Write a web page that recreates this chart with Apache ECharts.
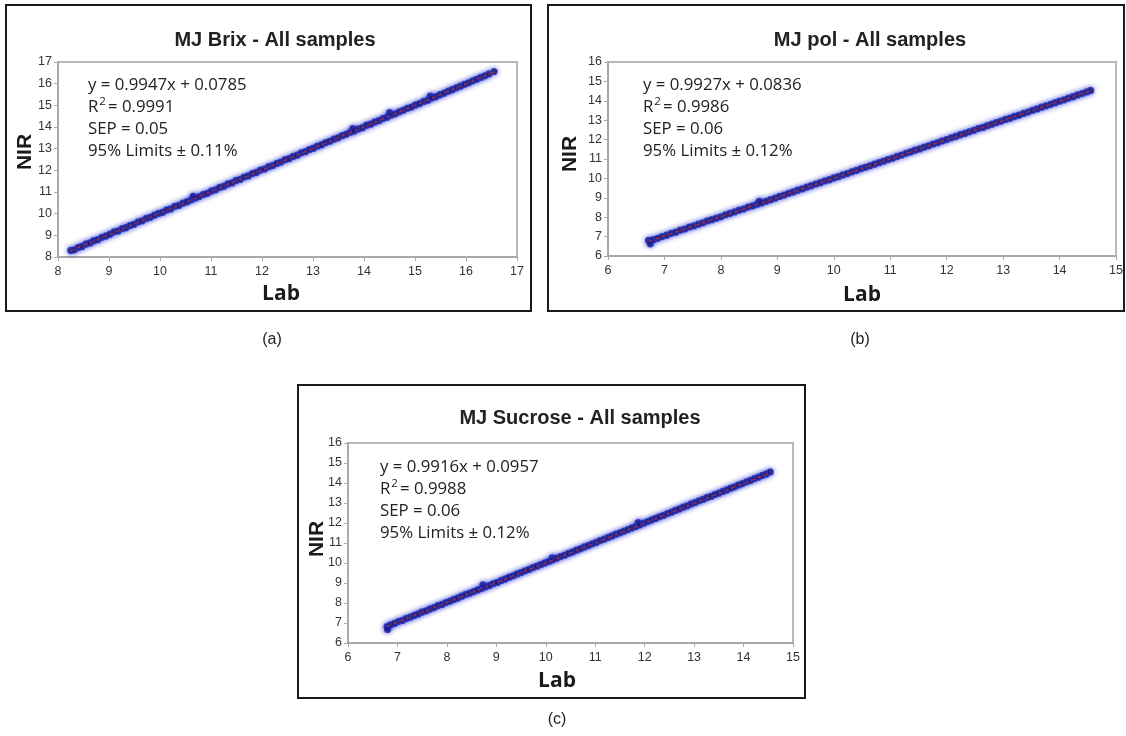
<!DOCTYPE html>
<html>
<head>
<meta charset="utf-8">
<title>MJ calibration - NIR vs Lab</title>
<script src="https://cdn.jsdelivr.net/npm/echarts@6/dist/echarts.min.js"></script>
<style>
  html, body { margin: 0; padding: 0; background: #fff; }
  #chart { width: 1126px; height: 736px; }
</style>
</head>
<body>
<div id="chart"></div>
<script>
// ---- MJ Brix: lab reference vs NIR prediction ----
const brixLab = [8.25, 8.32, 8.40, 8.47, 8.55, 8.63, 8.70, 8.78, 8.86, 8.94, 9.02, 9.10, 9.18, 9.26, 9.33, 9.41, 9.49, 9.57, 9.65, 9.73,
  9.81, 9.89, 9.97, 10.05, 10.13, 10.21, 10.29, 10.37, 10.45, 10.53, 10.61, 10.65, 10.69, 10.77, 10.85, 10.93, 11.01, 11.09, 11.17, 11.25,
  11.33, 11.41, 11.49, 11.57, 11.65, 11.73, 11.81, 11.89, 11.97, 12.05, 12.13, 12.21, 12.29, 12.37, 12.45, 12.53, 12.61, 12.69, 12.77, 12.85,
  12.93, 13.01, 13.09, 13.17, 13.25, 13.33, 13.41, 13.49, 13.57, 13.65, 13.73, 13.78, 13.81, 13.89, 13.97, 14.05, 14.13, 14.21, 14.29, 14.37,
  14.45, 14.50, 14.53, 14.61, 14.69, 14.77, 14.85, 14.93, 15.01, 15.09, 15.17, 15.25, 15.30, 15.33, 15.41, 15.49, 15.57, 15.65, 15.73, 15.81,
  15.89, 15.97, 16.05, 16.13, 16.21, 16.29, 16.37, 16.45, 16.55];
const brixNir = [8.30, 8.33, 8.44, 8.49, 8.60, 8.65, 8.75, 8.80, 8.91, 8.97, 9.05, 9.16, 9.20, 9.31, 9.35, 9.45, 9.51, 9.62, 9.67, 9.78,
  9.83, 9.93, 10.01, 10.06, 10.17, 10.22, 10.34, 10.38, 10.49, 10.55, 10.64, 10.80, 10.72, 10.79, 10.89, 10.94, 11.05, 11.10, 11.21, 11.26,
  11.37, 11.42, 11.53, 11.58, 11.69, 11.74, 11.85, 11.90, 12.01, 12.06, 12.17, 12.22, 12.32, 12.38, 12.49, 12.54, 12.64, 12.70, 12.81, 12.86,
  12.96, 13.02, 13.12, 13.18, 13.28, 13.34, 13.44, 13.50, 13.60, 13.66, 13.76, 13.92, 13.82, 13.91, 13.97, 14.08, 14.13, 14.23, 14.29, 14.39,
  14.45, 14.66, 14.55, 14.61, 14.70, 14.77, 14.86, 14.92, 15.02, 15.08, 15.18, 15.24, 15.42, 15.34, 15.40, 15.49, 15.56, 15.65, 15.72, 15.81,
  15.88, 15.97, 16.04, 16.13, 16.20, 16.29, 16.36, 16.45, 16.56];
const brixFit = { slope: 0.9947, intercept: 0.0785, r2: '0.9991', sep: '0.05', limits: '0.11' };

// ---- MJ pol ----
const polLab = [6.72, 6.75, 6.80, 6.88, 6.96, 7.04, 7.12, 7.20, 7.28, 7.36, 7.44, 7.52, 7.60, 7.68, 7.76, 7.84, 7.92, 8.00, 8.08, 8.16,
  8.24, 8.32, 8.40, 8.48, 8.56, 8.64, 8.68, 8.72, 8.80, 8.88, 8.96, 9.04, 9.12, 9.20, 9.28, 9.36, 9.44, 9.52, 9.60, 9.68,
  9.76, 9.84, 9.92, 10.00, 10.08, 10.16, 10.24, 10.32, 10.40, 10.48, 10.56, 10.64, 10.72, 10.80, 10.88, 10.96, 11.04, 11.12, 11.20, 11.28,
  11.36, 11.44, 11.52, 11.60, 11.68, 11.76, 11.84, 11.92, 12.00, 12.08, 12.16, 12.24, 12.32, 12.40, 12.48, 12.56, 12.64, 12.72, 12.80, 12.88,
  12.96, 13.04, 13.12, 13.20, 13.28, 13.36, 13.44, 13.52, 13.60, 13.68, 13.76, 13.84, 13.92, 14.00, 14.08, 14.16, 14.24, 14.32, 14.40, 14.48,
  14.55];
const polNir = [6.80, 6.63, 6.84, 6.91, 7.00, 7.07, 7.17, 7.23, 7.33, 7.39, 7.49, 7.55, 7.64, 7.71, 7.81, 7.87, 7.95, 8.02, 8.12, 8.19,
  8.27, 8.36, 8.42, 8.52, 8.58, 8.67, 8.82, 8.74, 8.82, 8.90, 8.98, 9.07, 9.14, 9.23, 9.30, 9.39, 9.46, 9.55, 9.62, 9.71,
  9.78, 9.87, 9.93, 10.02, 10.09, 10.18, 10.25, 10.34, 10.41, 10.50, 10.57, 10.65, 10.73, 10.81, 10.89, 10.97, 11.04, 11.13, 11.20, 11.29,
  11.36, 11.45, 11.52, 11.61, 11.68, 11.77, 11.84, 11.93, 12.00, 12.09, 12.16, 12.25, 12.32, 12.40, 12.48, 12.57, 12.63, 12.72, 12.79, 12.88,
  12.95, 13.04, 13.10, 13.19, 13.26, 13.35, 13.42, 13.51, 13.58, 13.67, 13.74, 13.82, 13.90, 13.98, 14.05, 14.14, 14.21, 14.30, 14.37, 14.46,
  14.53];
const polFit = { slope: 0.9927, intercept: 0.0836, r2: '0.9986', sep: '0.06', limits: '0.12' };

// ---- MJ Sucrose ----
const sucLab = [6.79, 6.80, 6.86, 6.94, 7.02, 7.10, 7.18, 7.26, 7.34, 7.42, 7.50, 7.58, 7.66, 7.74, 7.82, 7.90, 7.98, 8.06, 8.14, 8.22,
  8.30, 8.38, 8.46, 8.54, 8.62, 8.70, 8.73, 8.78, 8.86, 8.94, 9.02, 9.10, 9.18, 9.26, 9.34, 9.42, 9.50, 9.58, 9.66, 9.74,
  9.82, 9.90, 9.98, 10.06, 10.13, 10.14, 10.22, 10.30, 10.38, 10.46, 10.54, 10.62, 10.70, 10.78, 10.86, 10.94, 11.02, 11.10, 11.18, 11.26,
  11.34, 11.42, 11.50, 11.58, 11.66, 11.74, 11.82, 11.87, 11.90, 11.98, 12.06, 12.14, 12.22, 12.30, 12.38, 12.46, 12.54, 12.62, 12.70, 12.78,
  12.86, 12.94, 13.02, 13.10, 13.18, 13.26, 13.34, 13.42, 13.50, 13.58, 13.66, 13.74, 13.82, 13.90, 13.98, 14.06, 14.14, 14.22, 14.30, 14.38,
  14.46, 14.54];
const sucNir = [6.82, 6.68, 6.90, 6.98, 7.07, 7.13, 7.23, 7.29, 7.38, 7.45, 7.55, 7.61, 7.70, 7.77, 7.87, 7.93, 8.02, 8.09, 8.18, 8.25,
  8.34, 8.43, 8.49, 8.57, 8.65, 8.72, 8.90, 8.81, 8.88, 8.97, 9.03, 9.13, 9.20, 9.29, 9.36, 9.45, 9.52, 9.61, 9.68, 9.77,
  9.84, 9.92, 10.00, 10.08, 10.25, 10.16, 10.24, 10.32, 10.39, 10.48, 10.55, 10.64, 10.71, 10.80, 10.87, 10.96, 11.03, 11.12, 11.19, 11.28,
  11.35, 11.44, 11.51, 11.59, 11.67, 11.75, 11.83, 12.02, 11.91, 11.99, 12.07, 12.15, 12.23, 12.31, 12.38, 12.47, 12.54, 12.63, 12.70, 12.79,
  12.86, 12.95, 13.02, 13.11, 13.18, 13.27, 13.33, 13.42, 13.49, 13.58, 13.65, 13.74, 13.81, 13.90, 13.97, 14.06, 14.13, 14.22, 14.29, 14.38,
  14.45, 14.55];
const sucFit = { slope: 0.9916, intercept: 0.0957, r2: '0.9988', sep: '0.06', limits: '0.12' };

// Axis ranges (min, max) per panel
const brixRange = [8, 17, 8, 17];
const polRange = [6, 15, 6, 16];
const sucRange = [6, 15, 6, 16];

const titles = ['MJ Brix - All samples', 'MJ pol - All samples', 'MJ Sucrose - All samples'];
const captions = ['(a)', '(b)', '(c)'];

// ---- layout of the three panels (pixels) ----
const layout = [
  { grid: { left: 58, top: 62, width: 459, height: 195 }, frame: [6, 5, 525, 306],
    title: [275, 40], nir: [25, 152], lab: [281, 294], stats: [88, 85], caption: [272, 340] },
  { grid: { left: 608, top: 62, width: 509, height: 194 }, frame: [548, 5, 576, 306],
    title: [870, 40], nir: [570, 154], lab: [862, 295], stats: [643, 85], caption: [860, 340] },
  { grid: { left: 348, top: 443, width: 445, height: 200 }, frame: [298, 385, 507, 313],
    title: [580, 418], nir: [317, 539], lab: [557, 681], stats: [380, 467], caption: [557, 720] }
];

const panels = [
  { lab: brixLab, nir: brixNir, fit: brixFit, range: brixRange },
  { lab: polLab, nir: polNir, fit: polFit, range: polRange },
  { lab: sucLab, nir: sucNir, fit: sucFit, range: sucRange }
];

const tickFont = '"Liberation Sans", Arial, sans-serif';
const statFont = '"Open Sans", "Noto Sans", sans-serif';
const axisGray = '#a8a8a8';

const grids = [], xAxes = [], yAxes = [], series = [], graphics = [];

panels.forEach((p, i) => {
  const L = layout[i];
  grids.push(Object.assign({ show: true, borderColor: '#b8b8b8', borderWidth: 2, backgroundColor: '#fff' }, L.grid));

  const axisBase = (min, max, isX) => ({
    type: 'value', gridIndex: i, min: min, max: max, interval: 1,
    axisLine: { show: true, onZero: false, lineStyle: { color: axisGray, width: 2 } },
    axisTick: { show: true, length: 4, lineStyle: { color: axisGray, width: 1 } },
    splitLine: { show: false },
    axisLabel: { color: '#333', fontSize: 12.5, fontFamily: tickFont, margin: isX ? 8 : 6 }
  });
  xAxes.push(axisBase(p.range[0], p.range[1], true));
  yAxes.push(axisBase(p.range[2], p.range[3], false));

  // sample points: dark core with a blue halo
  series.push({
    type: 'scatter', xAxisIndex: i, yAxisIndex: i,
    data: p.lab.map((x, k) => [x, p.nir[k]]),
    symbol: 'circle', symbolSize: 6,
    itemStyle: { color: '#0e0e42', borderColor: '#2c30b8', borderWidth: 1.3,
      shadowBlur: 5, shadowColor: 'rgba(40, 55, 225, 0.7)' },
    silent: true, z: 2
  });

  // linear fit line from the stated equation
  const xs = [Math.min.apply(null, p.lab), Math.max.apply(null, p.lab)];
  series.push({
    type: 'line', xAxisIndex: i, yAxisIndex: i,
    data: xs.map(x => [x, p.fit.slope * x + p.fit.intercept]),
    symbol: 'none', silent: true, z: 3,
    lineStyle: { color: '#d8282a', width: 1, type: [4, 3] }
  });

  // outer frame
  graphics.push({ type: 'rect', shape: { x: L.frame[0], y: L.frame[1], width: L.frame[2], height: L.frame[3] },
    style: { fill: 'none', stroke: '#1a1a1a', lineWidth: 2 }, z: 1 });

  // title
  graphics.push({ type: 'text', x: L.title[0], y: L.title[1], z: 5,
    style: { text: titles[i], font: 'bold 20px "Liberation Sans", Arial, sans-serif', fill: '#222',
      align: 'center', verticalAlign: 'middle' } });

  // axis names
  graphics.push({ type: 'text', x: L.nir[0], y: L.nir[1], rotation: Math.PI / 2, z: 5,
    style: { text: 'NIR', font: 'bold 21px "Liberation Sans", Arial, sans-serif', fill: '#1a1a1a',
      align: 'center', verticalAlign: 'middle' } });
  graphics.push({ type: 'text', x: L.lab[0], y: L.lab[1], z: 5,
    style: { text: 'Lab', font: 'bold 21px "Open Sans", "Liberation Sans", sans-serif', fill: '#1a1a1a',
      align: 'center', verticalAlign: 'middle' } });

  // regression statistics
  const lines = [
    'y = ' + p.fit.slope.toFixed(4) + 'x + ' + p.fit.intercept.toFixed(4),
    '{n|R}{s|2}{n|= ' + p.fit.r2 + '}',
    'SEP = ' + p.fit.sep,
    '95% Limits ± ' + p.fit.limits + '%'
  ];
  lines.forEach((t, k) => {
    graphics.push({ type: 'text', x: L.stats[0], y: L.stats[1] + k * 22, z: 6,
      style: { text: t, font: '16.8px ' + statFont, fill: '#222', align: 'left', verticalAlign: 'middle',
        rich: {
          n: { fontSize: 16.8, fontFamily: statFont, fill: '#222', lineHeight: 22 },
          s: { fontSize: 11.5, fontFamily: statFont, fill: '#222', lineHeight: 22, padding: [0, 2, 10, 1] }
        } } });
  });

  // panel caption
  graphics.push({ type: 'text', x: L.caption[0], y: L.caption[1], z: 5,
    style: { text: captions[i], font: '16px "Liberation Sans", Arial, sans-serif', fill: '#222',
      align: 'center', verticalAlign: 'middle' } });
});

const chart = echarts.init(document.getElementById('chart'), null, { renderer: 'canvas' });
chart.setOption({
  animation: false,
  backgroundColor: '#fff',
  grid: grids,
  xAxis: xAxes,
  yAxis: yAxes,
  series: series,
  graphic: graphics
});
</script>
</body>
</html>
